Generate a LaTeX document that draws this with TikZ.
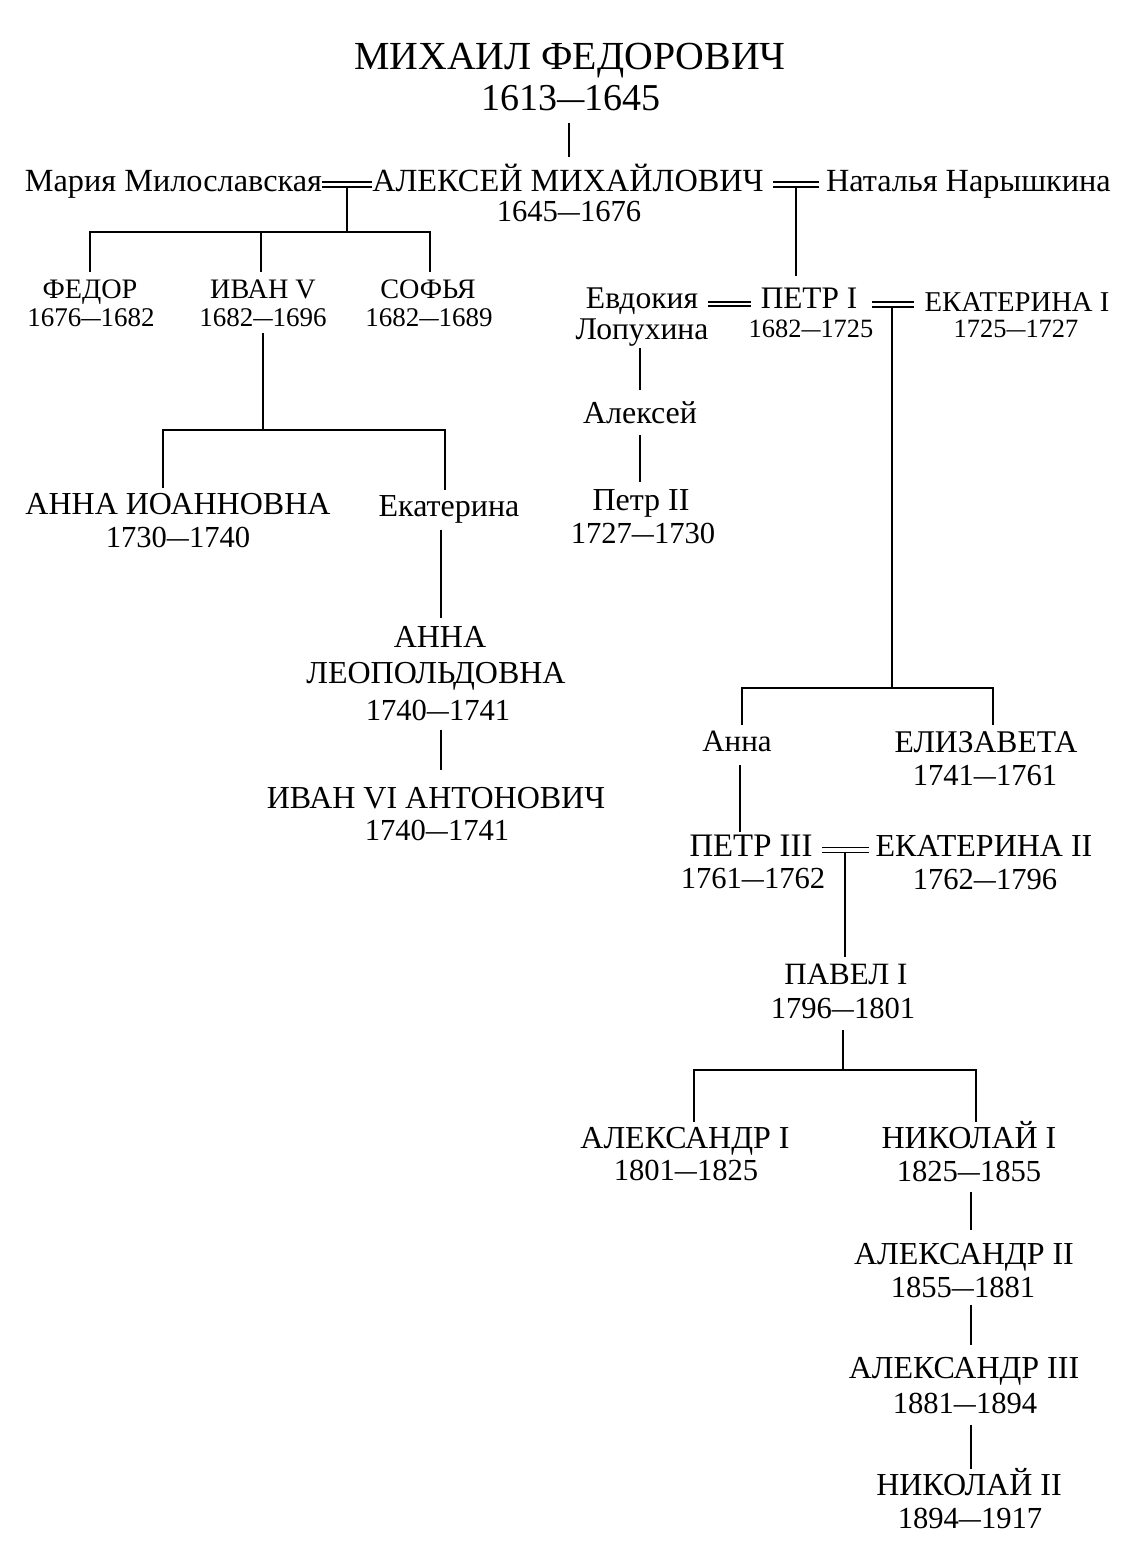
\documentclass[tikz,border=0pt]{standalone}
\usepackage{fontspec}
\setmainfont{Liberation Serif}
\usepackage{graphicx}
\newcommand\dd{\scalebox{0.72}[1]{—}}
\begin{document}
\begin{tikzpicture}[x=1pt,y=-1pt,
  lbl/.style={inner sep=0pt,outer sep=0pt,text depth=0pt},
  sz/.style 2 args={lbl,font=\fontsize{#1}{#1}\selectfont,text height=#2},
  nameL/.style={sz={32}{21.2pt}},
  dateL/.style={sz={30.6}{20.3pt}},
  nameS/.style={sz={28.2}{18.7pt}},
  dateS/.style={sz={27}{17.9pt}},
  ln/.style={line width=1.7pt}]
\useasboundingbox[fill=white] (0,0) rectangle (1120,1546);

% ---- top
\node[sz={39.8}{26.3pt}] (mikh)  at (570,56.5) {МИХАИЛ ФЕДОРОВИЧ};
\node[sz={38}{25.2pt}]   (mikhD) at (571,97.5) {1613\dd 1645};

\node[sz={32.3}{21.4pt},anchor=east] (maria) at (322,181) {Мария Милославская};
\node[sz={32.3}{21.4pt}] (alek)  at (568,181) {АЛЕКСЕЙ МИХАЙЛОВИЧ};
\node[dateL] (alekD) at (569,211) {1645\dd 1676};
\node[sz={32.3}{21.4pt},anchor=west] (nat) at (826,181) {Наталья Нарышкина};

% ---- children of Maria
\node[nameS] (fedor)  at (90,289)  {ФЕДОР};
\node[dateS] (fedorD) at (91,318)  {1676\dd 1682};
\node[nameS] (ivan)   at (263,289) {ИВАН V};
\node[dateS] (ivanD)  at (263,318) {1682\dd 1696};
\node[nameS] (sofya)  at (428,289) {СОФЬЯ};
\node[dateS] (sofyaD) at (429,318) {1682\dd 1689};

\node[nameL] (annaI)  at (178,504) {АННА ИОАННОВНА};
\node[dateL] (annaID) at (178,537) {1730\dd 1740};
\node[nameL] (ekat)   at (449,506) {Екатерина};
\node[nameL] (annaL1) at (440,637) {АННА};
\node[nameL] (annaL2) at (436,673) {ЛЕОПОЛЬДОВНА};
\node[dateL] (annaLD) at (438,710) {1740\dd 1741};
\node[nameL] (ivan6)  at (436,798) {ИВАН VI АНТОНОВИЧ};
\node[dateL] (ivan6D) at (437,830) {1740\dd 1741};

% ---- Peter I line
\node[sz={31.6}{20.9pt}] (evd) at (642,298) {Евдокия};
\node[sz={31.6}{20.9pt}] (lop) at (642,329) {Лопухина};
\node[sz={31.3}{20.7pt}] (p1)  at (809,298) {ПЕТР I};
\node[sz={26.4}{17.5pt}] (p1D) at (811,329) {1682\dd 1725};
\node[sz={28.7}{19pt}]   (e1)  at (1017,302) {ЕКАТЕРИНА I};
\node[sz={26.4}{17.5pt}] (e1D) at (1016,329) {1725\dd 1727};

\node[nameL] (alx) at (640,413) {Алексей};
\node[nameL] (p2)  at (641,500) {Петр II};
\node[dateL] (p2D) at (643,533) {1727\dd 1730};

\node[sz={31}{20.5pt}] (anna)  at (737,741) {Анна};
\node[sz={31.6}{20.9pt}] (eliz)  at (986,742) {ЕЛИЗАВЕТА};
\node[dateL] (elizD) at (985,775) {1741\dd 1761};

\node[sz={32.8}{21.7pt}] (p3)  at (751,846) {ПЕТР III};
\node[dateL] (p3D) at (753,878) {1761\dd 1762};
\node[nameL] (e2)  at (984,846) {ЕКАТЕРИНА II};
\node[dateL] (e2D) at (985,879) {1762\dd 1796};

\node[sz={31}{20.5pt}] (pav)  at (846,974)  {ПАВЕЛ I};
\node[dateL] (pavD) at (843,1008) {1796\dd 1801};

\node[nameL] (a1)  at (685,1138) {АЛЕКСАНДР I};
\node[dateL] (a1D) at (686,1170) {1801\dd 1825};
\node[nameL] (n1)  at (969,1138) {НИКОЛАЙ I};
\node[dateL] (n1D) at (969,1171) {1825\dd 1855};
\node[nameL] (a2)  at (964,1254) {АЛЕКСАНДР II};
\node[dateL] (a2D) at (963,1287) {1855\dd 1881};
\node[nameL] (a3)  at (964,1368) {АЛЕКСАНДР III};
\node[dateL] (a3D) at (965,1403) {1881\dd 1894};
\node[nameL] (n2)  at (969,1485) {НИКОЛАЙ II};
\node[dateL] (n2D) at (970,1518) {1894\dd 1917};

% ---- junction coordinates
\coordinate (m1) at (347,187);
\coordinate (j1) at (347,232);
\coordinate (m2) at (796,187);
\coordinate (j2) at (262,430);
\coordinate (aIt) at (163,488);
\coordinate (eKt) at (445,490);
\coordinate (m3) at (892,307);
\coordinate (j3) at (892,688);
\coordinate (anT) at (742,725);
\coordinate (elT) at (993,725);
\coordinate (m4) at (845,852.5);
\coordinate (j4) at (843,1070);
\coordinate (a1T) at (694,1122);
\coordinate (n1T) at (976,1122);
\coordinate (col) at (971,0);
\coordinate (colL) at (441,0);
\coordinate (colT) at (569,0);

% ---- connectors
\draw[ln,shorten <=13pt,shorten >=13pt] (mikhD.south -| colT) -- (alek.north -| colT);

\draw[ln] ([yshift=-1pt]maria.east) -- ([yshift=-1pt]alek.west);
\draw[ln] ([yshift=-6pt]maria.east) -- ([yshift=-6pt]alek.west);
\draw[ln,shorten <=9pt,shorten >=7pt] ([yshift=-1pt]alek.east) -- ([yshift=-1pt]nat.west);
\draw[ln,shorten <=9pt,shorten >=7pt] ([yshift=-6pt]alek.east) -- ([yshift=-6pt]nat.west);

\draw[ln] (m1) -- (j1);
\draw[ln,shorten >=7.5pt] (j1) -| (fedor);
\draw[ln,shorten >=7.5pt] (j1) -| ([xshift=-2pt]ivan.north);
\draw[ln,shorten >=7.5pt] (j1) -| ([xshift=2pt]sofya.north);

\draw[ln,shorten <=6pt] (ivanD) -- (ivanD |- j2) -- (j2);
\draw[ln] (j2) -| (aIt);
\draw[ln] (j2) -| (eKt);
\draw[ln,shorten <=13pt,shorten >=8pt] (ekat.south -| colL) -- (annaL1.north -| colL);
\draw[ln,shorten <=10pt,shorten >=17pt] (annaLD.south -| colL) -- (ivan6.north -| colL);

\draw[ln,shorten >=11.5pt] (m2) -- (m2 |- p1.north);
\draw[ln,shorten <=10pt,shorten >=10pt] ([yshift=-4pt]evd.east) -- ([yshift=-4pt]p1.west);
\draw[ln,shorten <=10pt,shorten >=10pt] ([yshift=-8pt]evd.east) -- ([yshift=-8pt]p1.west);
\draw[ln,shorten <=15pt,shorten >=11pt] ([yshift=-4pt]p1.east) -- ([yshift=-4pt]p1.east -| e1.west);
\draw[ln,shorten <=15pt,shorten >=11pt] ([yshift=-9pt]p1.east) -- ([yshift=-9pt]p1.east -| e1.west);

\draw[ln,shorten <=9pt,shorten >=12.5pt] (lop.south -| alx) -- (alx);
\draw[ln,shorten <=11.5pt,shorten >=7.5pt] (alx) -- (alx.south |- p2.north);

\draw[ln] (m3) -- (j3);
\draw[ln] (j3) -| (anT);
\draw[ln] (j3) -| (elT);
\draw[ln,shorten <=13.5pt,shorten >=3pt] ([xshift=3pt]anna.south) -- ([xshift=3pt]anna.south |- p3.north);

\draw[ln,shorten <=10pt,shorten >=7pt] ([yshift=-1.5pt]p3.east) -- ([yshift=-1.5pt]e2.west);
\draw[ln,shorten <=10pt,shorten >=7pt] ([yshift=-6.5pt]p3.east) -- ([yshift=-6.5pt]e2.west);
\draw[ln,shorten >=6.5pt] (m4) -- (m4 |- pav.north);

\draw[ln,shorten <=12pt] (pavD) -- (j4);
\draw[ln] (j4) -| (a1T);
\draw[ln] (j4) -| (n1T);

\draw[ln,shorten <=11pt,shorten >=13pt] (n1D.south -| col) -- (a2.north -| col);
\draw[ln,shorten <=8pt,shorten >=12pt] (a2D.south -| col) -- (a3.north -| col);
\draw[ln,shorten <=12pt,shorten >=5pt] (a3D.south -| col) -- (n2.north -| col);
\end{tikzpicture}
\end{document}
